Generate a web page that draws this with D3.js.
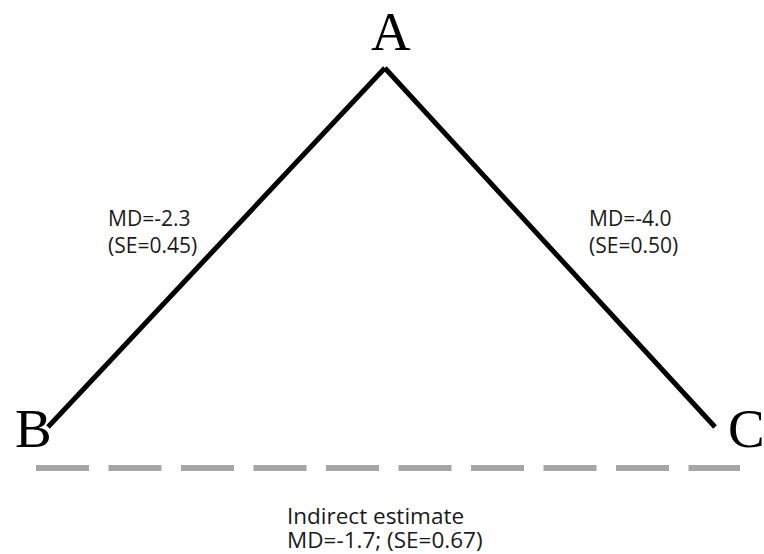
<!DOCTYPE html>
<html>
<head>
<meta charset="utf-8">
<script src="https://cdn.jsdelivr.net/npm/d3@7"></script>
<style>
  body { margin: 0; background: #fff; }
  svg { display: block; }
</style>
</head>
<body>
<svg id="chart" width="764" height="554"></svg>
<script>
// treatments, placed on a unit triangle
var nodeNames = ["A", "B", "C"];
var nodeX = [0.505, 0, 1];
var nodeY = [1, 0, 0];

// direct comparisons (A vs B, A vs C)
var edgeFrom = ["A", "A"];
var edgeTo = ["B", "C"];
var edgeMD = [-2.3, -4.0];
var edgeSE = [0.45, 0.50];

// indirect comparison B vs C
var indirectMD = -1.7;
var indirectSE = 0.67;

var svg = d3.select("#chart");

var x = d3.scaleLinear().domain([0, 1]).range([48, 715]);
var y = d3.scaleLinear().domain([0, 1]).range([427, 68]);

var nodes = nodeNames.map(function(n, i) {
  return { name: n, x: nodeX[i], y: nodeY[i] };
});
function node(name) {
  return nodes.find(function(d) { return d.name === name; });
}

var edges = edgeFrom.map(function(f, i) {
  return { from: node(f), to: node(edgeTo[i]), md: edgeMD[i], se: edgeSE[i] };
});

// solid lines for the direct comparisons
svg.selectAll("line.edge")
  .data(edges)
  .enter().append("line")
  .attr("class", "edge")
  .attr("x1", function(d) { return x(d.from.x); })
  .attr("y1", function(d) { return y(d.from.y); })
  .attr("x2", function(d) { return x(d.to.x); })
  .attr("y2", function(d) { return y(d.to.y); })
  .attr("stroke", "#000")
  .attr("stroke-width", 5);

// dashed base for the indirect one
svg.append("line")
  .attr("x1", x(0) - 12)
  .attr("x2", x(1) + 25)
  .attr("y1", y(0) + 41)
  .attr("y2", y(0) + 41)
  .attr("stroke", "#a6a6a6")
  .attr("stroke-width", 6)
  .attr("stroke-dasharray", "53,19.5");

// node letters
var letterPos = {
  A: { dx: 6, dy: -18, anchor: "middle" },
  B: { dx: -33, dy: 20, anchor: "start" },
  C: { dx: 13, dy: 20, anchor: "start" }
};
svg.selectAll("text.node")
  .data(nodes)
  .enter().append("text")
  .attr("class", "node")
  .attr("x", function(d) { return x(d.x) + letterPos[d.name].dx; })
  .attr("y", function(d) { return y(d.y) + letterPos[d.name].dy; })
  .attr("text-anchor", function(d) { return letterPos[d.name].anchor; })
  .attr("font-family", "'Liberation Serif', 'Times New Roman', serif")
  .attr("font-size", 55)
  .attr("fill", "#000")
  .text(function(d) { return d.name; });

// edge labels, left aligned beside each line
var labelX = [108, 589];
var labelFont = "'Open Sans', 'Noto Sans', sans-serif";
edges.forEach(function(e, i) {
  var t = svg.append("text")
    .attr("font-family", labelFont)
    .attr("font-size", 21)
    .attr("fill", "#1a1a1a");
  t.append("tspan").attr("x", labelX[i]).attr("y", 226)
    .text("MD=" + e.md.toFixed(1));
  t.append("tspan").attr("x", labelX[i]).attr("y", 253)
    .text("(SE=" + e.se.toFixed(2) + ")");
});

// indirect label
var ind = svg.append("text")
  .attr("font-family", labelFont)
  .attr("font-size", 22.5)
  .attr("fill", "#1a1a1a");
ind.append("tspan").attr("x", 287).attr("y", 524).text("Indirect estimate");
ind.append("tspan").attr("x", 287).attr("y", 548)
  .text("MD=" + indirectMD.toFixed(1) + "; (SE=" + indirectSE.toFixed(2) + ")");
</script>
</body>
</html>
